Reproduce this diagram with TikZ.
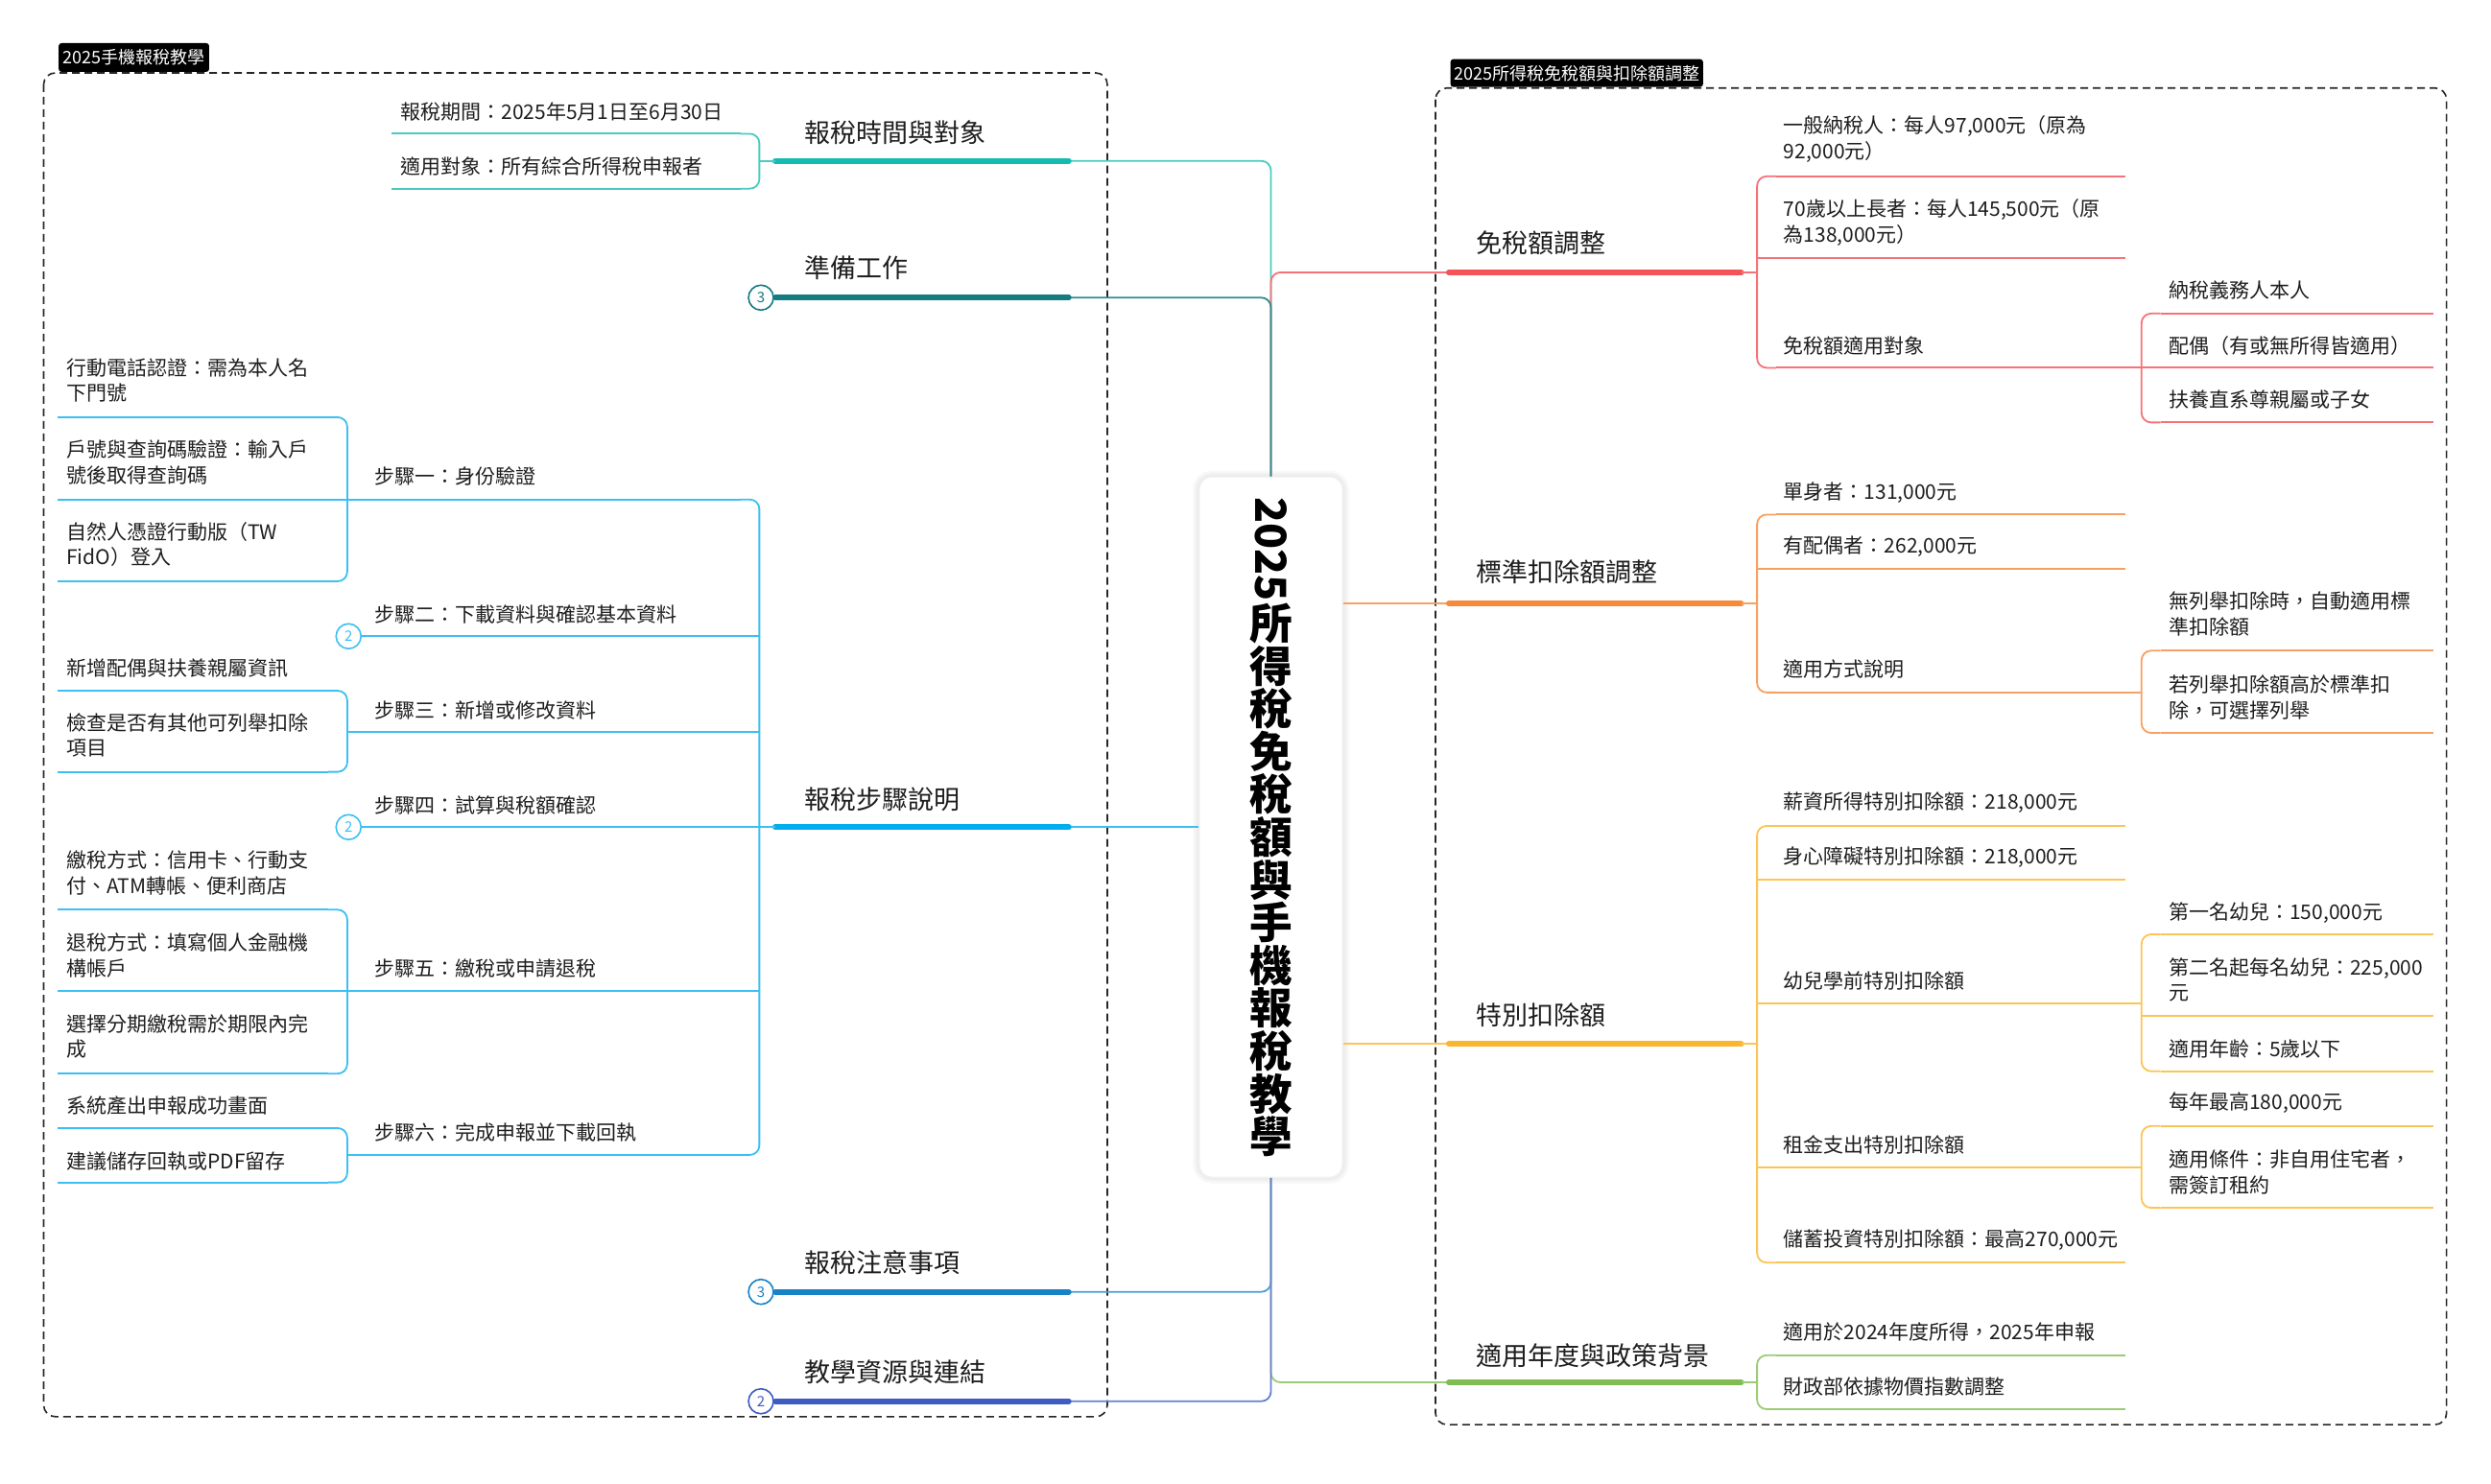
\documentclass[tikz,border=0pt]{standalone}
\usepackage{fontspec}
\setmainfont{Noto Sans CJK TC}
\usetikzlibrary{calc}
\definecolor{cA}{HTML}{13BBB0}\definecolor{lA}{HTML}{4CCAC2}
\definecolor{cB}{HTML}{147B80}\definecolor{lB}{HTML}{2E8C90}
\definecolor{cC}{HTML}{00ADEF}\definecolor{lC}{HTML}{3DBFF3}
\definecolor{cD}{HTML}{1782C5}\definecolor{lD}{HTML}{4A9FD3}
\definecolor{cE}{HTML}{3E5BC2}\definecolor{lE}{HTML}{6680D0}
\definecolor{cF}{HTML}{F5535A}\definecolor{lF}{HTML}{F77278}
\definecolor{cG}{HTML}{F58A3B}\definecolor{lG}{HTML}{F7A063}
\definecolor{cH}{HTML}{FBB62F}\definecolor{lH}{HTML}{FCC457}
\definecolor{cI}{HTML}{80BC50}\definecolor{lI}{HTML}{9CCB77}
\definecolor{txt}{HTML}{1E1E1E}
\newcommand\brL[4]{\draw[conn,#1] (#2-12,#3) -- (#2,#3) -- (#2,#4) -- (#2-12,#4);}
\newcommand\brR[4]{\draw[conn,#1] (#2+12,#3) -- (#2,#3) -- (#2,#4) -- (#2+12,#4);}
\newcommand\ul[4]{\draw[uline,#1] (#2,#4) -- (#3,#4);}
\begin{document}
\begin{tikzpicture}[x=0.8278pt,y=-0.8278pt,
  leaf/.style={anchor=west, inner sep=0pt, align=left, text=txt, font=\fontsize{10.5}{13.3}\selectfont},
  btxt/.style={anchor=west, inner sep=0pt, text=txt, font=\fontsize{13.5}{16}\selectfont},
  bar/.style={line width=3pt, line cap=round},
  conn/.style={line width=0.9pt, rounded corners=5pt},
  uline/.style={line width=1pt},
  fold/.style={circle, draw, fill=white, line width=0.8pt, minimum size=13pt, inner sep=0pt, font=\fontsize{7.5}{8}\selectfont},
  tag/.style={fill=black, text=white, rounded corners=1.5pt, inner sep=0pt, font=\fontsize{9}{10}\selectfont},
  frame/.style={draw=black!85, line width=0.8pt, dash pattern=on 4pt off 2.5pt, rounded corners=6pt}]
\useasboundingbox (0,0) rectangle (1568,934);
\fill[white] (0,0) rectangle (1568,934);

% frames and tags
\draw[frame] (27.5,45.9) rectangle (697,892);
\draw[frame] (903.6,55.4) rectangle (1540,897);
\node[tag, minimum width=78.4pt, minimum height=15pt] (tagL) at (84.3,36.2) {2025手機報稅教學};
\node[tag, minimum width=131.6pt, minimum height=14.5pt] (tagR) at (992.5,46) {2025所得稅免稅額與扣除額調整};

% root
\foreach \w in {7,5,3}{\draw[line width=\w pt, black, opacity=0.025, rounded corners=6.5pt] (755,300.5) rectangle (845,741);}
\node[draw=black!5, fill=white, line width=0.6pt, rounded corners=6.5pt, minimum width=74.5pt, minimum height=365pt, inner sep=0pt,
  align=center, font=\fontsize{22.3}{22.3}\selectfont\bfseries] (root) at (800,520.75)
  {\rotatebox[origin=c]{-90}{2025}\\所\\得\\稅\\免\\稅\\額\\與\\手\\機\\報\\稅\\教\\學};

% bar coordinates
\coordinate (A1) at (488,101.3); \coordinate (A2) at (672.7,101.3);
\coordinate (B1) at (488,187.4); \coordinate (B2) at (672.7,187.4);
\coordinate (C1) at (488,520.8); \coordinate (C2) at (672.7,520.8);
\coordinate (D1) at (488,813.4); \coordinate (D2) at (672.7,813.4);
\coordinate (E1) at (488,882.3); \coordinate (E2) at (672.7,882.3);
\coordinate (F1) at (912,171.5); \coordinate (F2) at (1096,171.5);
\coordinate (G1) at (912,380);   \coordinate (G2) at (1096,380);
\coordinate (H1) at (912,657.3); \coordinate (H2) at (1096,657.3);
\coordinate (I1) at (912,870.4); \coordinate (I2) at (1096,870.4);

% trunk connectors
\draw[conn,lA] (A2) -| (root.north);
\draw[conn,lF] (root.north) |- (F1);
\draw[conn,lB] (B2) -| (root.north);
\draw[conn,lC] (C2) -- (C2 -| root.west);
\draw[conn,lG] (G1 -| root.east) -- (G1);
\draw[conn,lH] (H1 -| root.east) -- (H1);
\draw[conn,lD] (D2) -| (root.south);
\draw[conn,lI] (root.south) |- (I1);
\draw[conn,lE] (E2) -| (root.south);

% bars
\draw[bar,cA] (A1) -- (A2); \draw[bar,cB] (B1) -- (B2); \draw[bar,cC] (C1) -- (C2);
\draw[bar,cD] (D1) -- (D2); \draw[bar,cE] (E1) -- (E2);
\draw[bar,cF] (F1) -- (F2); \draw[bar,cG] (G1) -- (G2); \draw[bar,cH] (H1) -- (H2); \draw[bar,cI] (I1) -- (I2);

% branch labels
\node[btxt] (bA) at (506.5,83.5) {報稅時間與對象};
\node[btxt] (bB) at (506.5,168.7) {準備工作};
\node[btxt] (bC) at (506.5,503.3) {報稅步驟說明};
\node[btxt] (bD) at (506.5,794.7) {報稅注意事項};
\node[btxt] (bE) at (506.5,863.7) {教學資源與連結};
\node[btxt] (bF) at (929,153) {免稅額調整};
\node[btxt] (bG) at (929,360.4) {標準扣除額調整};
\node[btxt] (bH) at (929,639) {特別扣除額};
\node[btxt] (bI) at (929,853.6) {適用年度與政策背景};

% fold markers on main branches
\node[fold, draw=cB, text=cB] (fB) at (479,187.4) {3};
\node[fold, draw=cD, text=cD] (fD) at (479,813.4) {3};
\node[fold, draw=cE, text=cE] (fE) at (479,882.3) {2};

% ---- A subtree
\brL{lA}{478}{84.2}{118.8}
\draw[conn,lA] (478,101.3) -- (A1);
\ul{lA}{246.3}{466}{84.2} \ul{lA}{246.3}{466}{118.8}
\node[leaf] (a1) at (252,70.5) {報稅期間：2025年5月1日至6月30日};
\node[leaf] (a2) at (252,104.7) {適用對象：所有綜合所得稅申報者};

% ---- C subtree
\brL{lC}{478}{314.5}{727.2}
\draw[conn,lC] (478,520.8) -- (C1);
\ul{lC}{218.6}{466}{314.5}
\ul{lC}{219.4}{478}{400.6}
\ul{lC}{218.6}{478}{460.7}
\ul{lC}{219.4}{478}{520.8}
\ul{lC}{218.6}{478}{624.1}
\ul{lC}{218.6}{466}{727.2}
\node[fold, draw=lC, text=lC] (fS2) at (219.4,400.6) {2};
\node[fold, draw=lC, text=lC] (fS4) at (219.4,520.8) {2};
\node[leaf] (st1) at (235.7,300) {步驟一：身份驗證};
\node[leaf] (st2) at (235.7,386.6) {步驟二：下載資料與確認基本資料};
\node[leaf] (st3) at (235.7,447) {步驟三：新增或修改資料};
\node[leaf] (st4) at (235.7,507) {步驟四：試算與稅額確認};
\node[leaf] (st5) at (235.7,610) {步驟五：繳稅或申請退稅};
\node[leaf] (st6) at (235.7,713.3) {步驟六：完成申報並下載回執};
% step1 children
\brL{lC}{218.6}{262.7}{366}
\ul{lC}{36}{206.6}{262.7} \ul{lC}{36}{218.6}{314.5} \ul{lC}{36}{206.6}{366}
\node[leaf] (s1a) at (41.6,239.5) {行動電話認證：需為本人名\\下門號};
\node[leaf] (s1b) at (41.6,291.2) {戶號與查詢碼驗證：輸入戶\\號後取得查詢碼};
\node[leaf] (s1c) at (41.6,342.7) {自然人憑證行動版（TW\\FidO）登入};
% step3 children
\brL{lC}{218.6}{434.9}{486}
\ul{lC}{36}{206.6}{434.9} \ul{lC}{36}{206.6}{486}
\node[leaf] (s3a) at (41.6,420.8) {新增配偶與扶養親屬資訊};
\node[leaf] (s3b) at (41.6,463) {檢查是否有其他可列舉扣除\\項目};
% step5 children
\brL{lC}{218.6}{572.8}{676}
\ul{lC}{36}{206.6}{572.8} \ul{lC}{36}{218.6}{624.1} \ul{lC}{36}{206.6}{676}
\node[leaf] (s5a) at (41.6,549.7) {繳稅方式：信用卡、行動支\\付、ATM轉帳、便利商店};
\node[leaf] (s5b) at (41.6,601.7) {退稅方式：填寫個人金融機\\構帳戶};
\node[leaf] (s5c) at (41.6,652.7) {選擇分期繳稅需於期限內完\\成};
% step6 children
\brL{lC}{218.6}{710.3}{744.5}
\ul{lC}{36}{206.6}{710.3} \ul{lC}{36}{206.6}{744.5}
\node[leaf] (s6a) at (41.6,695.9) {系統產出申報成功畫面};
\node[leaf] (s6b) at (41.6,730.9) {建議儲存回執或PDF留存};

% ---- F subtree
\brR{lF}{1106}{111}{231.6}
\draw[conn,lF] (F2) -- (1106,171.5);
\ul{lF}{1118}{1338}{111} \ul{lF}{1106}{1338}{162.7} \ul{lF}{1118}{1348}{231.6}
\node[leaf] (f1) at (1122.5,87.5) {一般納稅人：每人97,000元（原為\\92,000元）};
\node[leaf] (f2) at (1122.5,140) {70歲以上長者：每人145,500元（原\\為138,000元）};
\node[leaf] (f3) at (1122.5,217.5) {免稅額適用對象};
\brR{lF}{1348}{197.4}{266}
\ul{lF}{1360}{1532}{197.4} \ul{lF}{1348}{1532}{231.6} \ul{lF}{1360}{1532}{266}
\node[leaf] (f3a) at (1365,183) {納稅義務人本人};
\node[leaf] (f3b) at (1365,217.5) {配偶（有或無所得皆適用）};
\node[leaf] (f3c) at (1365,251.7) {扶養直系尊親屬或子女};

% ---- G subtree
\brR{lG}{1106}{324}{436}
\draw[conn,lG] (G2) -- (1106,380);
\ul{lG}{1118}{1338}{324} \ul{lG}{1106}{1338}{358.3} \ul{lG}{1118}{1348}{436}
\node[leaf] (g1) at (1122.5,310) {單身者：131,000元};
\node[leaf] (g2) at (1122.5,344.3) {有配偶者：262,000元};
\node[leaf] (g3) at (1122.5,421.6) {適用方式說明};
\brR{lG}{1348}{409.7}{461.5}
\ul{lG}{1360}{1532}{409.7} \ul{lG}{1360}{1532}{461.5}
\node[leaf] (g3a) at (1365,386.5) {無列舉扣除時，自動適用標\\準扣除額};
\node[leaf] (g3b) at (1365,439) {若列舉扣除額高於標準扣\\除，可選擇列舉};

% ---- H subtree
\brR{lH}{1106}{520}{795}
\draw[conn,lH] (H2) -- (1106,657.3);
\ul{lH}{1118}{1338}{520} \ul{lH}{1106}{1338}{554} \ul{lH}{1106}{1348}{631.8}
\ul{lH}{1106}{1348}{735} \ul{lH}{1118}{1338}{795}
\node[leaf] (h1) at (1122.5,505.3) {薪資所得特別扣除額：218,000元};
\node[leaf] (h2) at (1122.5,539.5) {身心障礙特別扣除額：218,000元};
\node[leaf] (h3) at (1122.5,617.7) {幼兒學前特別扣除額};
\node[leaf] (h4) at (1122.5,720.7) {租金支出特別扣除額};
\node[leaf] (h5) at (1122.5,781) {儲蓄投資特別扣除額：最高270,000元};
\brR{lH}{1348}{588.3}{674.5}
\ul{lH}{1360}{1532}{588.3} \ul{lH}{1348}{1532}{639.7} \ul{lH}{1360}{1532}{674.5}
\node[leaf] (h3a) at (1365,574.8) {第一名幼兒：150,000元};
\node[leaf] (h3b) at (1365,617) {第二名起每名幼兒：225,000\\元};
\node[leaf] (h3c) at (1365,660.4) {適用年齡：5歲以下};
\brR{lH}{1348}{709}{760.5}
\ul{lH}{1360}{1532}{709} \ul{lH}{1360}{1532}{760.5}
\node[leaf] (h4a) at (1365,694.6) {每年最高180,000元};
\node[leaf] (h4b) at (1365,738) {適用條件：非自用住宅者，\\需簽訂租約};

% ---- I subtree
\brR{lI}{1106}{853.3}{887.3}
\draw[conn,lI] (I2) -- (1106,870.4);
\ul{lI}{1118}{1338}{853.3} \ul{lI}{1118}{1338}{887.3}
\node[leaf] (i1) at (1122.5,838.4) {適用於2024年度所得，2025年申報};
\node[leaf] (i2) at (1122.5,872.8) {財政部依據物價指數調整};
\end{tikzpicture}
\end{document}
